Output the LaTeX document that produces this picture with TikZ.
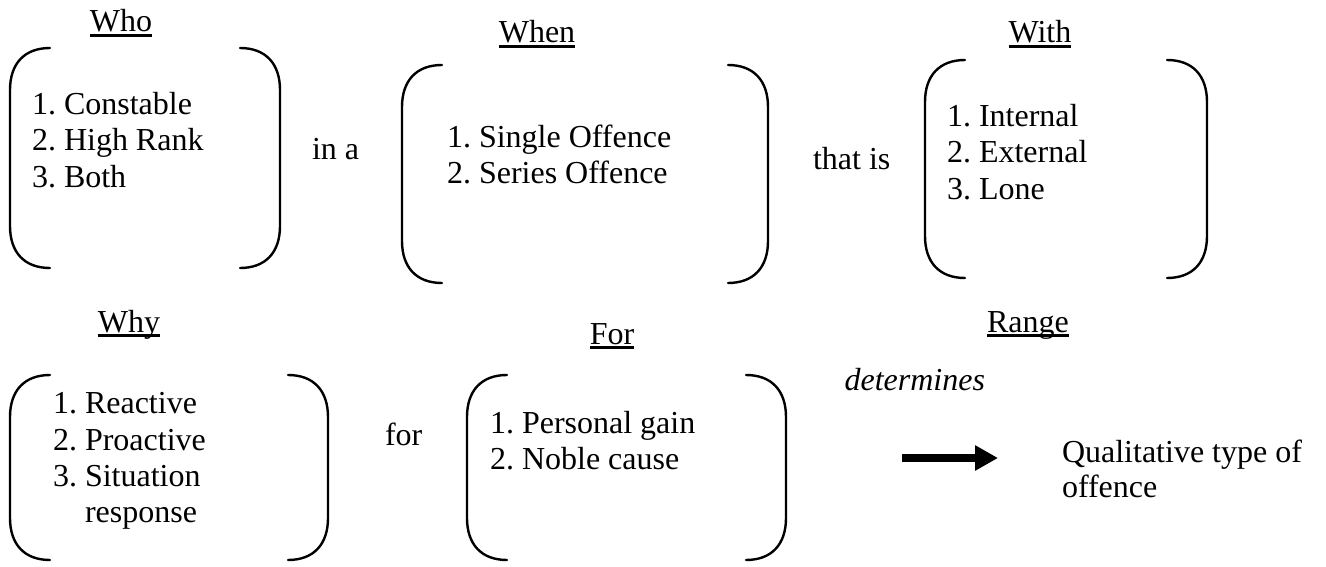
\documentclass[tikz,border=0pt]{standalone}
\usepackage{fontspec}
\setmainfont{Liberation Serif}
\usetikzlibrary{arrows.meta}
\frenchspacing
\newcommand\bracketpair[4]{%
  \draw[brk] ({#1+40},#2) .. controls ({#1+14},#2) and (#1,{#2+16}) .. (#1,{#2+42}) -- (#1,{#4-42}) .. controls (#1,{#4-16}) and ({#1+14},#4) .. ({#1+40},#4);
  \draw[brk] ({#3-40},#2) .. controls ({#3-14},#2) and (#3,{#2+16}) .. (#3,{#2+42}) -- (#3,{#4-42}) .. controls (#3,{#4-16}) and ({#3-14},#4) .. ({#3-40},#4);
}
\begin{document}
\begin{tikzpicture}[x=1pt,y=-1pt,
  every node/.style={font=\fontsize{32}{36}\selectfont\frenchspacing, inner sep=0pt, outer sep=0pt},
  item/.style={anchor=base west},
  ttl/.style={anchor=base},
  brk/.style={line width=2.4pt, line cap=round},
  uline/.style={line width=2.2pt},
  bigarrow/.style={line width=8pt, -{Triangle[length=23pt,width=24pt]}}]
\useasboundingbox (0,0) rectangle (1326,567);

% ---------- top row ----------
\node[ttl] (who) at (121,32) {Who};
\draw[uline] ([yshift=-3.5pt]who.base west) -- ([yshift=-3.5pt]who.base east);
\bracketpair{10}{48}{280}{268}
\node[item] (who1) at (32,115) {1. Constable};
\node[item] (who2) at (32,151) {2. High Rank};
\node[item] (who3) at (32,187) {3. Both};

\node[item] (ina) at (312,160) {in a};

\node[ttl] (when) at (537,43) {When};
\draw[uline] ([yshift=-3.5pt]when.base west) -- ([yshift=-3.5pt]when.base east);
\bracketpair{402}{65}{768}{283}
\node[item] (when1) at (447,148) {1. Single Offence};
\node[item] (when2) at (447,184) {2. Series Offence};

\node[item] (thatis) at (813,170) {that is};

\node[ttl] (with) at (1040,43) {With};
\draw[uline] ([yshift=-3.5pt]with.base west) -- ([yshift=-3.5pt]with.base east);
\bracketpair{925}{60}{1207}{278}
\node[item] (with1) at (947,127) {1. Internal};
\node[item] (with2) at (947,163) {2. External};
\node[item] (with3) at (947,200) {3. Lone};

% ---------- bottom row ----------
\node[ttl] (why) at (129,332) {Why};
\draw[uline] ([yshift=-3.5pt]why.base west) -- ([yshift=-3.5pt]why.base east);
\bracketpair{10}{375}{328}{560}
\node[item] (why1) at (53,413) {1. Reactive};
\node[item] (why2) at (53,450) {2. Proactive};
\node[item] (why3) at (53,486) {3. Situation};
\node[item] (why4) at (85,522) {response};

\node[item] (for) at (385,445) {for};

\node[ttl] (forh) at (612,344) {For};
\draw[uline] ([yshift=-3.5pt]forh.base west) -- ([yshift=-3.5pt]forh.base east);
\bracketpair{467}{375}{786}{560}
\node[item] (for1) at (490,433) {1. Personal gain};
\node[item] (for2) at (490,469) {2. Noble cause};

\node[ttl] (range) at (1028,332) {Range};
\draw[uline] ([yshift=-3.5pt]range.base west) -- ([yshift=-3.5pt]range.base east);

\node[anchor=base east] (det) at (985,390) {\itshape determines};

\coordinate (arrS) at (902,458);
\coordinate (arrE) at (998,458);
\draw[bigarrow] (arrS) -- (arrE);

\node[item] (qual1) at (1062,462) {Qualitative type of};
\node[item] (qual2) at (1062,497) {offence};
\end{tikzpicture}
\end{document}
